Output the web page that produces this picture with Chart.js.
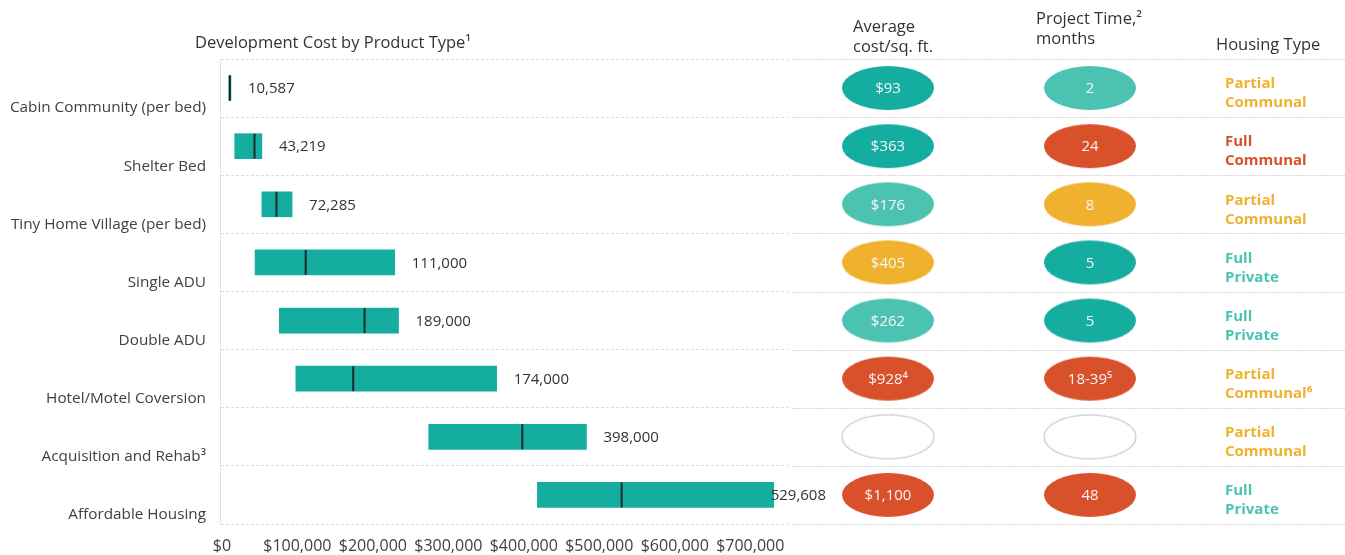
<!DOCTYPE html>
<html>
<head>
<meta charset="utf-8">
<script src="https://cdn.jsdelivr.net/npm/chart.js@4"></script>
<style>
  html, body { margin: 0; padding: 0; background: #fff; }
  #left { position: absolute; left: 0; top: 0; width: 830px; height: 555px; }
  #right { position: absolute; left: 780px; top: 0; width: 565px; height: 555px; }
</style>
</head>
<body>
<div id="left"><canvas id="costChart"></canvas></div>
<div id="right"><canvas id="tableChart"></canvas></div>
<script>
const FONT = '"Open Sans", "Noto Sans", sans-serif'

// rows
const categories = ['Cabin Community (per bed)', 'Shelter Bed', 'Tiny Home Village (per bed)', 'Single ADU',
    'Double ADU', 'Hotel/Motel Coversion', 'Acquisition and Rehab³', 'Affordable Housing']
// development cost range + median, $
const costLow = [9000, 17000, 53000, 44000, 76000, 98000, 274000, 418000]
const costHigh = [12000, 53000, 93000, 229000, 234000, 364000, 483000, 731000]
const costMedian = [10587, 43219, 72285, 111000, 189000, 174000, 398000, 529608]
const xTicks = [0, 100000, 200000, 300000, 400000, 500000, 600000, 700000]
// table columns
const costPerSqFt = ['$93', '$363', '$176', '$405', '$262', '$928⁴', '', '$1,100']
const projectMonths = ['2', '24', '8', '5', '5', '18-39⁵', '', '48']
const housingType = [['Partial', 'Communal'], ['Full', 'Communal'], ['Partial', 'Communal'], ['Full', 'Private'],
    ['Full', 'Private'], ['Partial', 'Communal⁶'], ['Partial', 'Communal'], ['Full', 'Private']]

const TEAL = '#14ada0', LTEAL = '#4cc3b1', YELLOW = '#f0b22e', RED = '#d9512b', EMPTY = null
const costColors = [TEAL, TEAL, LTEAL, YELLOW, LTEAL, RED, EMPTY, RED]
const timeColors = [LTEAL, RED, YELLOW, TEAL, TEAL, RED, EMPTY, RED]
const housingColors = {'Partial Communal': YELLOW, 'Full Communal': RED, 'Full Private': LTEAL}

// ellipse images for the point styles
function ellipse(fill) {
    const c = document.createElement('canvas')
    c.width = 96; c.height = 48
    const g = c.getContext('2d')
    g.beginPath()
    g.ellipse(48, 24, 46, 22, 0, 0, Math.PI * 2)
    if (fill) {
        g.fillStyle = fill
        g.fill()
    } else {
        g.fillStyle = '#fff'
        g.fill()
        g.strokeStyle = '#d2d2d2'
        g.lineWidth = 1.5
        g.stroke()
    }
    return c
}

const barExtras = {
    id: 'barExtras',
    afterDatasetsDraw(chart) {
        const ctx = chart.ctx
        const x = chart.scales.x
        const meta = chart.getDatasetMeta(0)
        ctx.save()
        meta.data.forEach((bar, i) => {
            const half = bar.height / 2
            const mx = x.getPixelForValue(costMedian[i])
            ctx.strokeStyle = '#1c2a2a'
            ctx.lineWidth = 2
            ctx.beginPath()
            ctx.moveTo(mx, bar.y - half)
            ctx.lineTo(mx, bar.y + half)
            ctx.stroke()
            // value label right of the bar, kept inside the visual
            const txt = costMedian[i].toLocaleString('en-US')
            ctx.font = '15px ' + FONT
            ctx.fillStyle = '#333'
            ctx.textBaseline = 'middle'
            ctx.textAlign = 'left'
            const w = ctx.measureText(txt).width
            const tx = Math.min(x.getPixelForValue(costHigh[i]) + 17, chart.width - w - 4)
            ctx.fillText(txt, tx, bar.y + 1)
        })
        // title
        ctx.font = '16.5px ' + FONT
        ctx.fillStyle = '#333'
        ctx.textBaseline = 'alphabetic'
        ctx.fillText('Development Cost by Product Type¹', chart.chartArea.left - 25, 48)
        ctx.restore()
    }
}

new Chart('costChart', {
    type: 'bar',
    data: {
        labels: categories,
        datasets: [{
            data: costLow.map((v, i) => [v, costHigh[i]]),
            backgroundColor: TEAL,
            barThickness: 25,
        }]
    },
    options: {
        indexAxis: 'y',
        responsive: true,
        maintainAspectRatio: false,
        animation: false,
        layout: {padding: {top: 59, right: 42, bottom: 0, left: 0}},
        plugins: {legend: {display: false}, tooltip: {enabled: false}},
        scales: {
            x: {
                min: -2500,
                max: 750000,
                afterBuildTicks: (s) => { s.ticks = xTicks.map(v => ({value: v})) },
                afterFit: (s) => { s.height = 31 },
                grid: {display: false, drawTicks: false},
                border: {display: false},
                ticks: {
                    padding: 13,
                    color: '#404040',
                    font: {family: FONT, size: 16},
                    callback: (v) => '$' + v.toLocaleString('en-US'),
                },
            },
            y: {
                afterFit: (s) => { s.width = 220 },
                grid: {color: '#dcdcdc', drawTicks: false, offset: true},
                border: {display: true, color: '#e2e2e2', dash: [3, 2]},
                ticks: {
                    padding: 14,
                    labelOffset: 20,
                    color: '#404040',
                    font: {family: FONT, size: 15.3},
                },
            },
        },
    },
    plugins: [barExtras],
})

const tableExtras = {
    id: 'tableExtras',
    beforeDatasetsDraw(chart) {
        const ctx = chart.ctx, a = chart.chartArea
        const rowH = (a.bottom - a.top) / categories.length
        ctx.save()
        ctx.strokeStyle = '#d6d6d6'
        ctx.lineWidth = 1
        ctx.setLineDash([2, 1])
        for (let k = 0; k <= categories.length; k++) {
            const y = Math.round(a.top + k * rowH) + 0.5
            ctx.beginPath()
            ctx.moveTo(12, y)
            ctx.lineTo(chart.width, y)
            ctx.stroke()
        }
        ctx.restore()
    },
    afterDatasetsDraw(chart) {
        const ctx = chart.ctx, a = chart.chartArea
        const xs = chart.scales.x
        const texts = [costPerSqFt, projectMonths]
        ctx.save()
        ctx.textAlign = 'center'
        ctx.textBaseline = 'middle'
        ctx.font = '15px ' + FONT
        ctx.fillStyle = '#f5f5f5'
        texts.forEach((arr, d) => {
            chart.getDatasetMeta(d).data.forEach((pt, i) => {
                if (arr[i]) ctx.fillText(arr[i], pt.x, pt.y + 1)
            })
        })
        // housing type
        const hx = 445
        ctx.textAlign = 'left'
        ctx.font = 'bold 15px ' + FONT
        chart.getDatasetMeta(0).data.forEach((pt, i) => {
            ctx.fillStyle = housingColors[housingType[i][0] + ' ' + housingType[i][1].replace('⁶', '')]
            ctx.fillText(housingType[i][0], hx, pt.y - 4)
            ctx.fillText(housingType[i][1], hx, pt.y + 15)
        })
        // headers
        ctx.font = '16.5px ' + FONT
        ctx.fillStyle = '#333'
        ctx.textBaseline = 'alphabetic'
        const c0 = xs.getPixelForValue(0), c1 = xs.getPixelForValue(1)
        ctx.fillText('Average', c0 - 35, 32)
        ctx.fillText('cost/sq. ft.', c0 - 35, 52)
        ctx.fillText('Project Time,²', c1 - 54, 24)
        ctx.fillText('months', c1 - 54, 44)
        ctx.fillText('Housing Type', 436, 50)
        ctx.restore()
    }
}

new Chart('tableChart', {
    type: 'scatter',
    data: {
        datasets: [
            {
                label: 'Average cost/sq. ft.',
                data: categories.map(c => ({x: 'cost', y: c})),
                pointStyle: costColors.map(ellipse),
                pointRadius: 1,
                hoverRadius: 1,
                borderWidth: 0,
            },
            {
                label: 'Project Time, months',
                data: categories.map(c => ({x: 'time', y: c})),
                pointStyle: timeColors.map(ellipse),
                pointRadius: 1,
                hoverRadius: 1,
                borderWidth: 0,
            },
        ]
    },
    options: {
        responsive: true,
        maintainAspectRatio: false,
        animation: false,
        layout: {padding: {top: 59, right: 154, bottom: 31, left: 7}},
        plugins: {legend: {display: false}, tooltip: {enabled: false}},
        scales: {
            x: {type: 'category', labels: ['cost', 'time'], offset: true, display: false},
            y: {type: 'category', labels: categories, offset: true, display: false},
        },
    },
    plugins: [tableExtras],
})
</script>
</body>
</html>
